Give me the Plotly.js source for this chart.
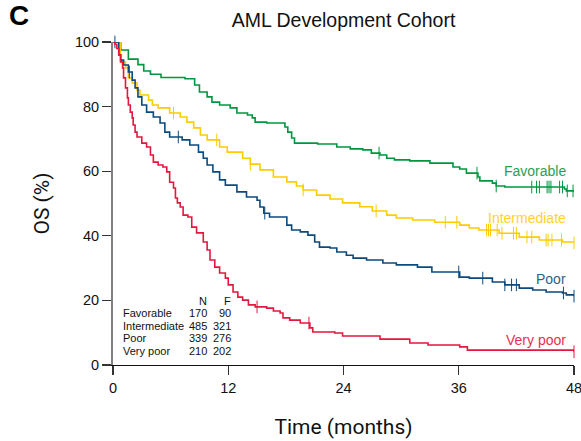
<!DOCTYPE html>
<html>
<head>
<meta charset="utf-8">
<script src="https://cdn.plot.ly/plotly-3.0.1.min.js"></script>
<style>html,body{margin:0;padding:0;background:#fff;}#chart{width:581px;height:441px;}</style>
</head>
<body>
<div id="chart"></div>
<script>
// ---- Data (months, OS %) ----
const groupNames = ["Favorable", "Intermediate", "Poor", "Very poor"];
const nValues = [170, 485, 339, 210];
const fValues = [90, 321, 276, 202];
const xTickVals = [0, 12, 24, 36, 48];
const yTickVals = [0, 20, 40, 60, 80, 100];

const favT = [0, 0.8, 1.6, 2.6, 3.2, 3.9, 5.0, 7.5, 8.5, 9.0, 9.8, 10.3, 11.1, 12.2, 12.9, 14.0, 14.5, 14.8, 16.0, 17.9, 18.2, 18.6, 18.9, 21.3, 23.3, 24.7, 26.0, 26.9, 27.8, 28.5, 29.3, 30.9, 33.0, 35.4, 36.1, 36.8, 38.0, 38.2, 39.5, 39.9, 40.8, 47.0, 47.2, 48];
const favS = [100, 97.5, 94.7, 93, 91, 90, 89, 88.6, 86.7, 84.5, 83, 81.4, 80.5, 79.6, 78, 77.4, 76.5, 75.2, 74.9, 73.7, 72.1, 70.3, 68.7, 68.4, 67.5, 66.9, 66.6, 65.6, 65, 64, 63.5, 63.2, 62.5, 61.3, 60.7, 59.4, 58.2, 57, 56.3, 55.4, 55.1, 54.5, 53.9, 53.9];
const favCens = [27.7, 37.9, 39.9, 43.6, 44.1, 44.4, 45.2, 45.4, 45.6, 46.5, 46.8, 47.3, 47.9];

const intT = [0, 0.75, 1.3, 1.6, 2.0, 2.5, 2.8, 3.7, 4.1, 4.7, 5.9, 7.0, 7.7, 8.4, 9.1, 9.8, 11.1, 11.9, 13.5, 14.3, 15.3, 16.7, 18.1, 19.1, 19.8, 21.2, 22.6, 23.9, 25.7, 27.0, 28.5, 29.5, 31.2, 33.5, 36.1, 37.1, 38.1, 40.2, 42.3, 44.4, 46.8, 48];
const intS = [100, 93.8, 92, 88.9, 87.3, 85.1, 83.6, 82, 80.5, 79.6, 78, 76.8, 75.2, 73.4, 71.2, 69.7, 67.5, 65.9, 64, 62.2, 60.4, 58.2, 56.7, 55.4, 54.2, 52.6, 51.4, 50.2, 49, 47.7, 46.4, 45.5, 44.9, 44.2, 43.3, 42.4, 41.8, 40.8, 39.6, 38.7, 38.1, 37.8];
const intCens = [6.3, 10.8, 14.3, 19.8, 27.4, 34.6, 35.8, 38.9, 39.1, 39.3, 40.0, 40.5, 41.7, 42.0, 43.1, 43.6, 45.1, 45.3, 45.7, 46.7, 48];

const poorT = [0, 0.6, 0.8, 1.1, 1.6, 2.0, 2.3, 2.6, 3.0, 3.5, 4.2, 4.9, 5.4, 5.9, 7.2, 8.0, 8.9, 9.4, 9.8, 10.4, 11.1, 11.7, 12.9, 13.9, 15.0, 15.3, 15.7, 16.3, 18.1, 18.6, 19.5, 20.3, 21.0, 21.5, 22.6, 23.3, 24.3, 25.0, 26.4, 28.1, 29.5, 31.7, 33.2, 36.1, 37.1, 39.5, 40.8, 42.3, 43.7, 45.1, 46.8, 47.2, 48];
const poorS = [100, 96, 94.4, 92.9, 90.7, 88.2, 85.8, 83, 80.5, 78.3, 76.8, 74.9, 72.1, 70.6, 69.7, 68.1, 65.9, 64, 61.9, 59.8, 57.3, 55.7, 53.6, 52, 51, 48.9, 47, 45.8, 43.3, 41.8, 41.2, 40.2, 38.1, 36.5, 36.2, 35, 34, 33.1, 32.5, 31.6, 31, 30.3, 28.8, 27.2, 26.9, 25.7, 24.8, 23.8, 23.2, 22.6, 22.3, 21.7, 21.3];
const poorCens = [0.2, 1.7, 6.8, 15.8, 36.0, 38.5, 40.8, 41.5, 42.0, 46.9, 48];

const vpT = [0, 0.2, 0.4, 0.6, 0.8, 1.0, 1.1, 1.3, 1.5, 1.6, 1.8, 2.0, 2.1, 2.3, 2.5, 3.0, 3.5, 3.9, 4.2, 4.7, 5.2, 5.6, 5.9, 6.3, 6.5, 6.7, 7.0, 7.3, 7.8, 8.2, 8.7, 9.4, 9.8, 10.1, 10.6, 11.1, 11.7, 12.0, 12.5, 13.0, 13.5, 14.1, 14.8, 16.0, 16.7, 17.4, 17.7, 18.4, 19.5, 20.5, 20.8, 23.1, 23.9, 27.8, 30.9, 32.8, 36.1, 36.9, 48];
const vpS = [100, 99.3, 98, 96, 93.8, 92, 88.9, 85.8, 82.7, 80.5, 78.3, 76.5, 74.3, 72.1, 70.6, 68.7, 67.5, 65, 62.8, 61.9, 61.3, 59.8, 56.6, 54.8, 51.7, 50.2, 48.9, 46.4, 45.8, 42.7, 40.9, 38.1, 35.6, 32.5, 30.3, 28.5, 26.9, 24.8, 22.6, 21, 20.1, 18.6, 18, 17.6, 16.7, 16.1, 14.6, 13.9, 13, 11.5, 10.2, 9.9, 9, 8, 6.8, 6.2, 5.6, 4.6, 4.1];
const vpCens = [15.0, 20.4, 48];

// ---- Styles ----
const colors = ["#00963f", "#ffcc00", "#0c4a7d", "#e4173e"];
const labelColors = ["#2a9f52", "#ffd42a", "#2f5e87", "#e4304f"];
const series = [[favT, favS, favCens], [intT, intS, intCens], [poorT, poorS, poorCens], [vpT, vpS, vpCens]];

function survAt(T, S, t) {
  let v = S[0];
  for (let i = 0; i < T.length; i++) { if (T[i] <= t) v = S[i]; }
  return v;
}

const traces = [];
series.forEach((s, i) => {
  traces.push({
    x: s[0], y: s[1], type: "scatter", mode: "lines",
    line: {shape: "hv", color: colors[i], width: 1.6},
    hoverinfo: "skip", showlegend: false, name: groupNames[i]
  });
  traces.push({
    x: s[2], y: s[2].map(t => survAt(s[0], s[1], t)), type: "scatter", mode: "markers",
    marker: {symbol: "line-ns", size: 9, line: {color: colors[i], width: 1}, color: colors[i]},
    cliponaxis: false, hoverinfo: "skip", showlegend: false
  });
});

const annotations = [];
// curve labels
const labelY = [60, 45.5, 26.6, 7.7];
groupNames.forEach((g, i) => {
  annotations.push({x: 47.4, y: labelY[i], xref: "x", yref: "y", text: g, showarrow: false,
    xanchor: "right", yanchor: "middle", font: {family: "Liberation Sans, Arial, sans-serif", size: 14, color: labelColors[i]}});
});
// table
const tf = {family: "Liberation Sans, Arial, sans-serif", size: 11, color: "#111"};
annotations.push({x: 10.0, y: 19.8, xref: "x", yref: "y", text: "N", showarrow: false, xanchor: "right", yanchor: "middle", font: tf});
annotations.push({x: 12.5, y: 19.8, xref: "x", yref: "y", text: "F", showarrow: false, xanchor: "right", yanchor: "middle", font: tf});
const rowY = [16.1, 12.1, 8.4, 4.3];
groupNames.forEach((g, i) => {
  annotations.push({x: 0.8, y: rowY[i], xref: "x", yref: "y", text: g, showarrow: false, xanchor: "left", yanchor: "middle", font: tf});
  annotations.push({x: 10.0, y: rowY[i], xref: "x", yref: "y", text: String(nValues[i]), showarrow: false, xanchor: "right", yanchor: "middle", font: tf});
  annotations.push({x: 12.5, y: rowY[i], xref: "x", yref: "y", text: String(fValues[i]), showarrow: false, xanchor: "right", yanchor: "middle", font: tf});
});
// panel letter
annotations.push({x: -106/461, y: 1 + 26/323, xref: "paper", yref: "paper", text: "<b>C</b>", showarrow: false,
  xanchor: "left", yanchor: "middle", font: {family: "Liberation Sans, Arial, sans-serif", size: 28, color: "#000"}});

const layout = {
  width: 581, height: 441,
  margin: {l: 113, r: 7, t: 42, b: 76},
  paper_bgcolor: "#fff", plot_bgcolor: "#fff",
  title: {text: "AML Development Cohort", x: 0.5 + (113 - 7) / 2 / 581, xanchor: "center", y: 1 - 20 / 441, yanchor: "middle",
    font: {family: "Liberation Sans, Arial, sans-serif", size: 19.5, color: "#111"}},
  xaxis: {
    range: [0, 48], tickvals: xTickVals, ticktext: xTickVals.map(String),
    ticks: "outside", ticklen: 9, tickwidth: 1.2, tickcolor: "#333", ticklabeloverflow: "allow",
    showline: true, linecolor: "#111", linewidth: 1.2, zeroline: false, showgrid: false,
    tickfont: {family: "Liberation Sans, Arial, sans-serif", size: 14.5, color: "#111"},
    title: {text: "Time (months)", standoff: 24, font: {family: "Roboto, sans-serif", size: 21, color: "#111"}}
  },
  yaxis: {
    range: [0, 100], tickvals: yTickVals, ticktext: yTickVals.map(String),
    ticks: "outside", ticklen: 9, tickwidth: 1.2, tickcolor: "#333",
    showline: true, linecolor: "#808080", linewidth: 2, zeroline: false, showgrid: false,
    tickfont: {family: "Liberation Sans, Arial, sans-serif", size: 14.5, color: "#111"},
    title: {text: "OS (%)", standoff: 20, font: {family: "Roboto, sans-serif", size: 21, color: "#111"}}
  },
  annotations: annotations
};

Plotly.newPlot("chart", traces, layout, {displayModeBar: false, staticPlot: true});
</script>
</body>
</html>
